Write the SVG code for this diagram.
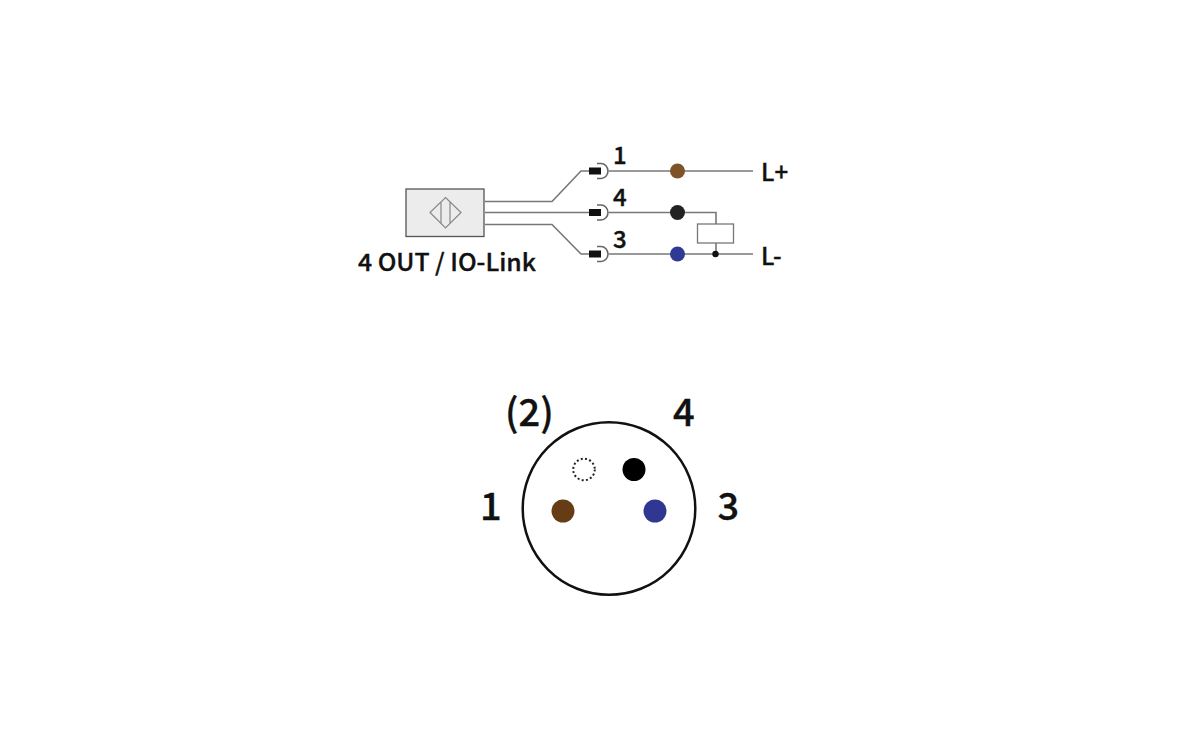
<svg xmlns="http://www.w3.org/2000/svg" width="1200" height="741" viewBox="0 0 1200 741">
<style>
text{font-family:"Noto Sans CJK KR","Noto Sans",sans-serif;fill:#111;font-weight:500;stroke:#111;stroke-width:.35}
.s{font-size:24px}
.b{font-size:38px}
.w{fill:none;stroke:#777;stroke-width:1.600}
</style>
<defs>
<g id="plug"><rect x="-9" y="-3.500" width="12" height="7" fill="#111"/><path d="M-1-7.500H3A7 7.500 0 0 1 3 7.500H-1" fill="none" stroke="#666" stroke-width="1.600"/></g>
</defs>
<rect width="1200" height="741" fill="#fff"/>
<g id="connectors">
<path class="w" d="M485 201.500H552L581 171H594"/>
<path class="w" d="M485 212.500H594"/>
<path class="w" d="M485 224.500H552L581 254H594"/>
<path class="w" d="M609 171H753"/>
<path class="w" d="M609 212.500H716V224"/>
<path class="w" d="M609 254H753"/>
<path class="w" d="M716 243V254"/>
</g>
<g id="sensor">
<rect x="406" y="189" width="78" height="47.500" fill="#ececec" stroke="#555" stroke-width="1.300"/>
<path d="M445.500 197.500L461 212.500L445.500 228L430 212.500Z M441 202.500V223 M450 202.500V223" fill="none" stroke="#888" stroke-width="1.200"/>
<text x="358" y="271" class="s" textLength="178" lengthAdjust="spacingAndGlyphs">4 OUT / IO-Link</text>
</g>
<g id="plug-1"><use href="#plug" x="598" y="171"/><text x="613" y="163.500" class="s">1</text></g>
<g id="plug-4"><use href="#plug" x="598" y="212.500"/><text x="613" y="206" class="s">4</text></g>
<g id="plug-3"><use href="#plug" x="598" y="254"/><text x="613" y="248" class="s">3</text></g>
<g id="wire-dot-brown"><circle cx="677.500" cy="171" r="7.500" fill="#7f5228"/></g>
<g id="wire-dot-black"><circle cx="677.500" cy="212.500" r="7.500" fill="#222"/></g>
<g id="wire-dot-blue"><circle cx="677.500" cy="254" r="7.500" fill="#2f3a95"/></g>
<g id="load">
<rect x="697.500" y="224" width="36" height="19" fill="#fff" stroke="#777" stroke-width="1.300"/>
<circle cx="715.500" cy="254" r="3.200" fill="#111"/>
</g>
<g id="label-lplus"><text x="761" y="180.500" class="s">L+</text></g>
<g id="label-lminus"><text x="761" y="265" class="s">L-</text></g>
<g id="connector-face">
<circle cx="609" cy="508.500" r="86.300" fill="#fff" stroke="#111" stroke-width="2.500"/>
<circle cx="584" cy="469.500" r="10.800" fill="#fff" stroke="#222" stroke-width="2" stroke-dasharray="2 2.300"/>
<circle cx="634" cy="469.500" r="11.500" fill="#000"/>
<circle cx="563" cy="511" r="11.500" fill="#653c14"/>
<circle cx="655" cy="511" r="11.500" fill="#2f3793"/>
<text x="505" y="426" class="b">(2)</text>
<text x="673" y="426" class="b">4</text>
<text x="480" y="520" class="b">1</text>
<text x="717.500" y="520" class="b">3</text>
</g>
</svg>
